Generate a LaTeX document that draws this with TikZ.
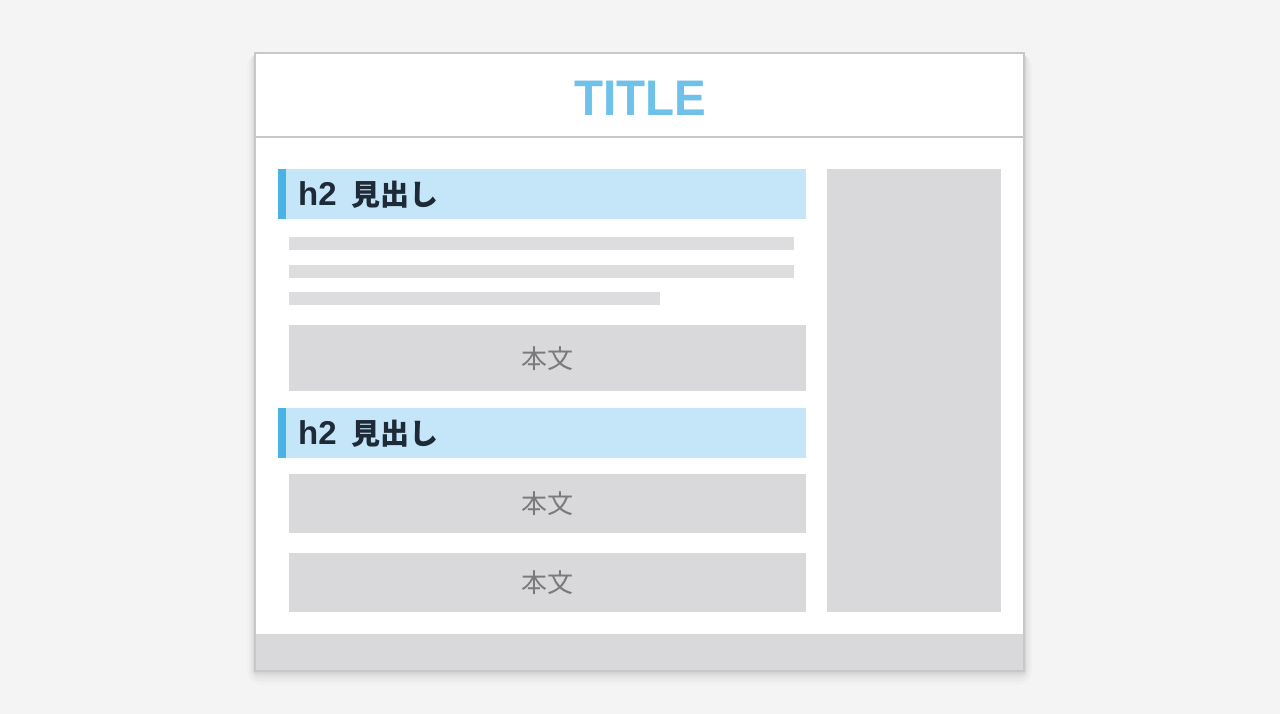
\documentclass[tikz,border=0pt]{standalone}
\usepackage{fontspec}
\setmainfont{Liberation Sans}
\newfontfamily\cjk{Noto Sans CJK JP}
\newfontfamily\lat{Liberation Sans}
\definecolor{bgc}{HTML}{F4F4F5}
\definecolor{framec}{HTML}{C8C8CC}
\definecolor{blockc}{HTML}{D9D8DA}
\definecolor{linec}{HTML}{DDDCDE}
\definecolor{titlec}{HTML}{6EC1E8}
\definecolor{barc}{HTML}{C5E6F8}
\definecolor{accentc}{HTML}{4AB3E4}
\definecolor{headc}{HTML}{1E2A38}
\definecolor{bodyc}{HTML}{7A7A7C}
\tikzset{
  block/.style={fill=blockc, draw=none},
  textline/.style={fill=linec, draw=none},
  hbar/.style={fill=barc, draw=none},
  accent/.style={fill=accentc, draw=none},
  headtext/.style={anchor=west, text=headc, font=\cjk\bfseries\fontsize{29}{32}\selectfont, inner sep=0pt},
  bodytext/.style={text=bodyc, font=\cjk\fontsize{26}{30}\selectfont, inner sep=0pt},
}
\newcommand{\hhead}{\makebox[53pt][l]{\lat\bfseries\fontsize{33}{36}\selectfont h2}見出し}
\begin{document}
\begin{tikzpicture}[x=1pt,y=-1pt]
\useasboundingbox (0,0) rectangle (1280,714);
\fill[bgc] (0,0) rectangle (1280,714);
% soft shadow
\foreach \d/\o in {16/0.015,12/0.02,8/0.025,5/0.03,3/0.035}{
  \fill[black, opacity=\o, rounded corners=\d pt] (255-\d*0.5,53+2-\d*0.2) rectangle (1024+\d*0.5,671+\d*0.9);
}
% frame
\node[fill=white, minimum width=769pt, minimum height=618pt, inner sep=0pt, anchor=north west] (frame) at (255,53) {};
% header
\coordinate (hl) at (255,137);
\coordinate (hr) at (1024,137);
\draw[framec, line width=2pt] (hl) -- (hr);
\node[text=titlec, font=\bfseries\fontsize{50}{55}\selectfont, inner sep=0pt] (title) at (640,98) {\scalebox{0.95}[1]{TITLE}};
% footer
\node[block, minimum width=769pt, minimum height=37pt, inner sep=0pt, anchor=north west] (footer) at (255,634) {};
\draw[framec, line width=2pt] (frame.north west) rectangle (frame.south east);
% sidebar
\node[block, minimum width=174pt, minimum height=443pt, inner sep=0pt, anchor=north west] (side) at (827,169) {};
% h2 bar 1
\node[hbar, minimum width=528pt, minimum height=50pt, inner sep=0pt, anchor=north west] (h2a) at (278,169) {};
\node[accent, minimum width=8pt, minimum height=50pt, inner sep=0pt, anchor=north west] (acca) at (278,169) {};
\node[headtext] (h2at) at (298,195) {\hhead};
% text lines
\node[textline, minimum width=505pt, minimum height=13pt, inner sep=0pt, anchor=north west] (l1) at (289,237) {};
\node[textline, minimum width=505pt, minimum height=13pt, inner sep=0pt, anchor=north west] (l2) at (289,265) {};
\node[textline, minimum width=371pt, minimum height=13pt, inner sep=0pt, anchor=north west] (l3) at (289,292) {};
% body 1
\node[block, minimum width=517pt, minimum height=66pt, inner sep=0pt, anchor=north west] (b1) at (289,325) {};
\node[bodytext] (b1t) at (b1.center) {本文};
% h2 bar 2
\node[hbar, minimum width=528pt, minimum height=50pt, inner sep=0pt, anchor=north west] (h2b) at (278,408) {};
\node[accent, minimum width=8pt, minimum height=50pt, inner sep=0pt, anchor=north west] (accb) at (278,408) {};
\node[headtext] (h2bt) at (298,434) {\hhead};
% body 2,3
\node[block, minimum width=517pt, minimum height=59pt, inner sep=0pt, anchor=north west] (b2) at (289,474) {};
\node[bodytext] (b2t) at (b2.center) {本文};
\node[block, minimum width=517pt, minimum height=59pt, inner sep=0pt, anchor=north west] (b3) at (289,553) {};
\node[bodytext] (b3t) at (b3.center) {本文};
\end{tikzpicture}
\end{document}
